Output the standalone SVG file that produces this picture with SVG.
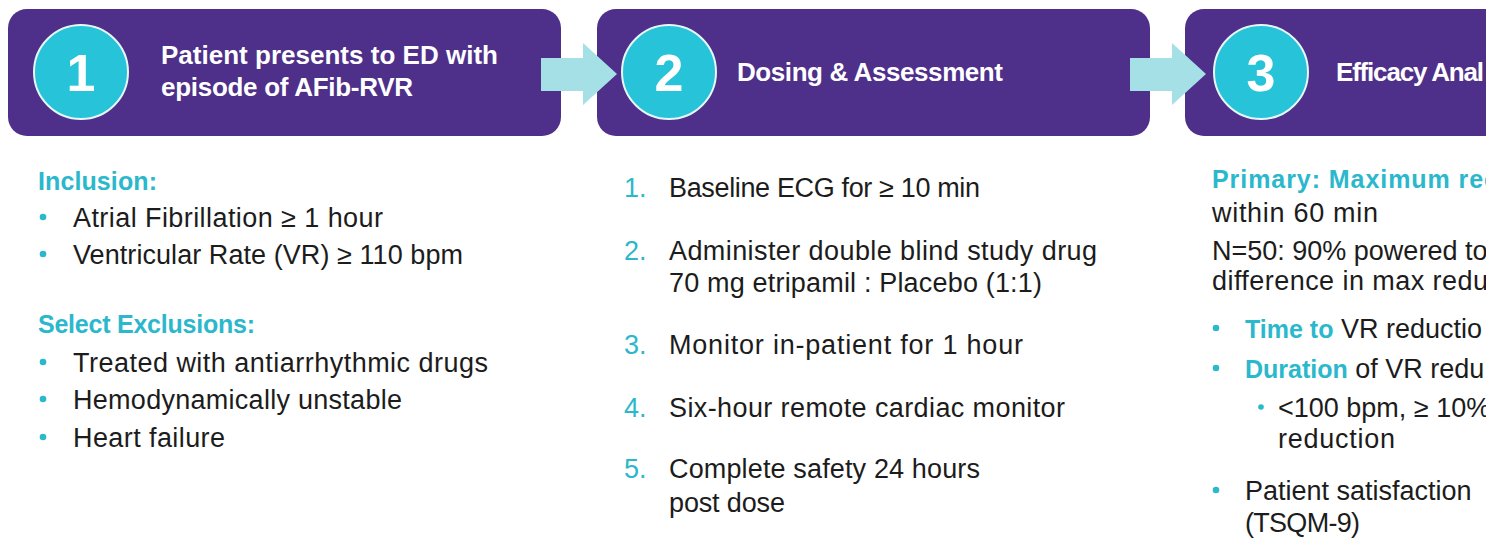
<svg xmlns="http://www.w3.org/2000/svg" width="1496" height="543" viewBox="0 0 1496 543">
  <style>
    .box { fill: #4E2F89; }
    .circ { fill: #27C3D8; stroke: #E6F7FA; stroke-width: 2; }
    .num { font-family: "Liberation Sans", Arial, sans-serif; font-weight: bold; font-size: 52px; fill: #ffffff; text-anchor: middle; }
    .head { font-family: "Liberation Sans", Arial, sans-serif; font-weight: bold; font-size: 26px; fill: #ffffff; }
    .arrow { fill: #A6E0E7; }
    .t { font-family: "Liberation Sans", Arial, sans-serif; font-size: 27px; fill: #1C1C1C; }
    .h { font-family: "Liberation Sans", Arial, sans-serif; font-size: 25px; font-weight: bold; fill: #2BB8CC; }
    .c { fill: #2BB8CC; }
    .n { font-family: "Liberation Sans", Arial, sans-serif; font-size: 27px; fill: #2BB8CC; }
  </style>
  <defs>
    <clipPath id="edge"><rect x="0" y="0" width="1486" height="543"/></clipPath>
  </defs>
  <rect x="0" y="0" width="1496" height="543" fill="#ffffff"/>
  <g clip-path="url(#edge)">
    <g id="node-1">
      <rect class="box" x="8" y="9" width="553" height="127" rx="19"/>
      <circle class="circ" cx="81" cy="72" r="47"/>
      <text class="num" x="81" y="91">1</text>
      <text class="head" x="161" y="64" textLength="337">Patient presents to ED with</text>
      <text class="head" x="161" y="96" textLength="252">episode of AFib-RVR</text>
    </g>
    <g id="node-2">
      <rect class="box" x="597" y="9" width="553" height="127" rx="19"/>
      <circle class="circ" cx="669" cy="72" r="47"/>
      <text class="num" x="669" y="91">2</text>
      <text class="head" x="737" y="81" textLength="266">Dosing &amp; Assessment</text>
    </g>
    <g id="node-3">
      <rect class="box" x="1185" y="9" width="340" height="127" rx="19"/>
      <circle class="circ" cx="1261" cy="72" r="47"/>
      <text class="num" x="1261" y="91">3</text>
      <text class="head" x="1336" y="81" textLength="148">Efficacy Anal</text>
    </g>
    <g id="connectors">
      <polygon class="arrow" points="541,58 583,58 583,43 617,74 583,105 583,91 541,91"/>
      <polygon class="arrow" points="1130,58 1172,58 1172,43 1206,74 1172,105 1172,91 1130,91"/>
    </g>
    <g id="details-1">
      <text class="h" x="38" y="190" textLength="119">Inclusion:</text>
      <circle class="c" cx="43" cy="217" r="3.3"/>
      <text class="t" x="73" y="227" textLength="310">Atrial Fibrillation ≥ 1 hour</text>
      <circle class="c" cx="43" cy="254" r="3.3"/>
      <text class="t" x="73" y="264" textLength="390">Ventricular Rate (VR) ≥ 110 bpm</text>
      <text class="h" x="38" y="333" textLength="217">Select Exclusions:</text>
      <circle class="c" cx="43" cy="362" r="3.3"/>
      <text class="t" x="73" y="372" textLength="415">Treated with antiarrhythmic drugs</text>
      <circle class="c" cx="43" cy="399" r="3.3"/>
      <text class="t" x="73" y="409" textLength="329">Hemodynamically unstable</text>
      <circle class="c" cx="43" cy="437" r="3.3"/>
      <text class="t" x="73" y="447" textLength="152">Heart failure</text>
    </g>
    <g id="details-2">
      <text class="n" x="624" y="197">1.</text>
      <text class="t" x="669" y="197" textLength="311">Baseline ECG for ≥ 10 min</text>
      <text class="n" x="624" y="260">2.</text>
      <text class="t" x="669" y="260" textLength="428">Administer double blind study drug</text>
      <text class="t" x="669" y="292" textLength="373">70 mg etripamil : Placebo (1:1)</text>
      <text class="n" x="624" y="354">3.</text>
      <text class="t" x="669" y="354" textLength="354">Monitor in-patient for 1 hour</text>
      <text class="n" x="624" y="417">4.</text>
      <text class="t" x="669" y="417" textLength="396">Six-hour remote cardiac monitor</text>
      <text class="n" x="624" y="478">5.</text>
      <text class="t" x="669" y="478" textLength="311">Complete safety 24 hours</text>
      <text class="t" x="669" y="512" textLength="116">post dose</text>
    </g>
    <g id="details-3">
      <text class="h" x="1212" y="188" textLength="286">Primary: Maximum rec</text>
      <text class="t" x="1212" y="222" textLength="166">within 60 min</text>
      <text class="t" x="1212" y="260">N=50: 90% powered to</text>
      <text class="t" x="1212" y="290" textLength="276">difference in max redu</text>
      <circle class="c" cx="1216" cy="328" r="3.3"/>
      <text class="t" x="1245" y="338"><tspan class="h" font-size="25px">Time to</tspan> VR reductio</text>
      <circle class="c" cx="1216" cy="368" r="3.3"/>
      <text class="t" x="1245" y="378"><tspan class="h" font-size="25px">Duration</tspan> of VR redu</text>
      <circle class="c" cx="1261" cy="407" r="2.8"/>
      <text class="t" x="1278" y="417">&lt;100 bpm, ≥ 10%</text>
      <text class="t" x="1278" y="448" textLength="117">reduction</text>
      <circle class="c" cx="1216" cy="490" r="3.3"/>
      <text class="t" x="1245" y="500">Patient satisfaction</text>
      <text class="t" x="1245" y="532" textLength="115">(TSQM-9)</text>
    </g>
  </g>
</svg>
